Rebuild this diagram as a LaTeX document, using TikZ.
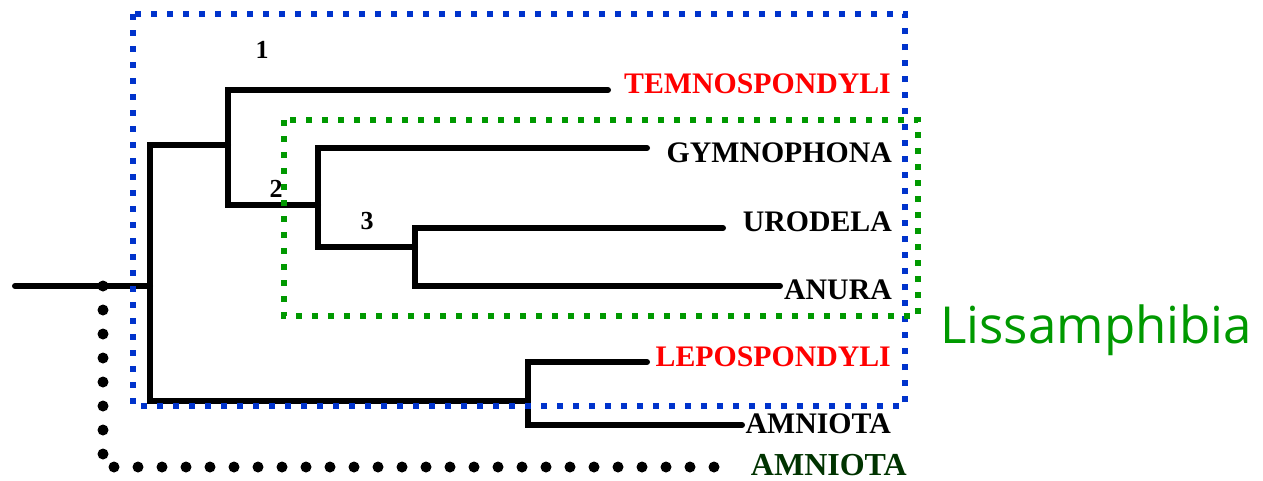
\documentclass[tikz,border=0pt]{standalone}
\usepackage{fontspec}
\setmainfont{Liberation Serif}
\newfontfamily\lissfont{Open Sans}
\definecolor{boxblue}{HTML}{0033CC}
\definecolor{boxgreen}{HTML}{009900}
\definecolor{taxred}{HTML}{FF0000}
\definecolor{darkgreen}{HTML}{003300}
\begin{document}
\begin{tikzpicture}[x=1pt,y=-1pt,
  branch/.style={line width=6pt, line cap=round, line join=miter},
  bluebox/.style={draw=boxblue, line width=6pt, dash pattern=on 6pt off 10pt},
  greenbox/.style={draw=boxgreen, line width=6pt, dash pattern=on 6pt off 10pt},
  dotline/.style={line width=11pt, line cap=round, dash pattern=on 0pt off 24pt},
  taxon/.style={anchor=east, inner sep=0pt, font=\bfseries\fontsize{29.8}{32}\selectfont},
  num/.style={inner sep=0pt, font=\bfseries\fontsize{26}{28}\selectfont}]
\useasboundingbox (0,0) rectangle (1263,480);
% internal nodes
\coordinate (r0) at (15,286);
\coordinate (A) at (150,286);
\coordinate (B) at (228,145);
\coordinate (C) at (528,401);
\coordinate (D) at (318,205);
\coordinate (E) at (415,247);
% tips
\coordinate (tT) at (608,90);
\coordinate (tG) at (647,148);
\coordinate (tU) at (723,228);
\coordinate (tAn) at (780,286);
\coordinate (tL) at (647,362);
\coordinate (tAm) at (742,425);
\coordinate (dotA) at (103,286);
\coordinate (dotB) at (103,467);
\coordinate (dotC) at (727,467);
% dotted amniota link
\draw[dotline] (dotA) -- (dotB) -- (dotC);
% tree
\draw[branch] (r0) -- (A);
\draw[branch] (A) |- (B);
\draw[branch] (A) |- (C);
\draw[branch] (B) |- (tT);
\draw[branch] (B) |- (D);
\draw[branch] (D) |- (tG);
\draw[branch] (D) |- (E);
\draw[branch] (E) |- (tU);
\draw[branch] (E) |- (tAn);
\draw[branch] (C) |- (tL);
\draw[branch] (C) |- (tAm);
% boxes
\draw[bluebox] (133,14) rectangle (905,406);
\draw[greenbox] (284,120) rectangle (918,316);
% labels
\node[taxon, text=taxred] (lT) at (891,84) {TEMNOSPONDYLI};
\node[taxon] (lG) at (892,153) {GYMNOPHONA};
\node[taxon] (lU) at (892,222) {URODELA};
\node[taxon] (lAn) at (892,290) {ANURA};
\node[taxon, text=taxred] (lL) at (891,357) {LEPOSPONDYLI};
\node[taxon] (lAm) at (891,424) {AMNIOTA};
\node[anchor=east, inner sep=0pt, text=darkgreen, font=\bfseries\fontsize{32}{34}\selectfont] (lAm2) at (907,465) {AMNIOTA};
\node[num] (n1) at (262,50) {1};
\node[num] (n2) at (276,189) {2};
\node[num] (n3) at (367,221) {3};
\node[anchor=base west, inner sep=0pt, text=boxgreen, font=\lissfont\fontsize{51}{56}\selectfont] (liss) at (940,343) {Lissamphibia};
\end{tikzpicture}
\end{document}
